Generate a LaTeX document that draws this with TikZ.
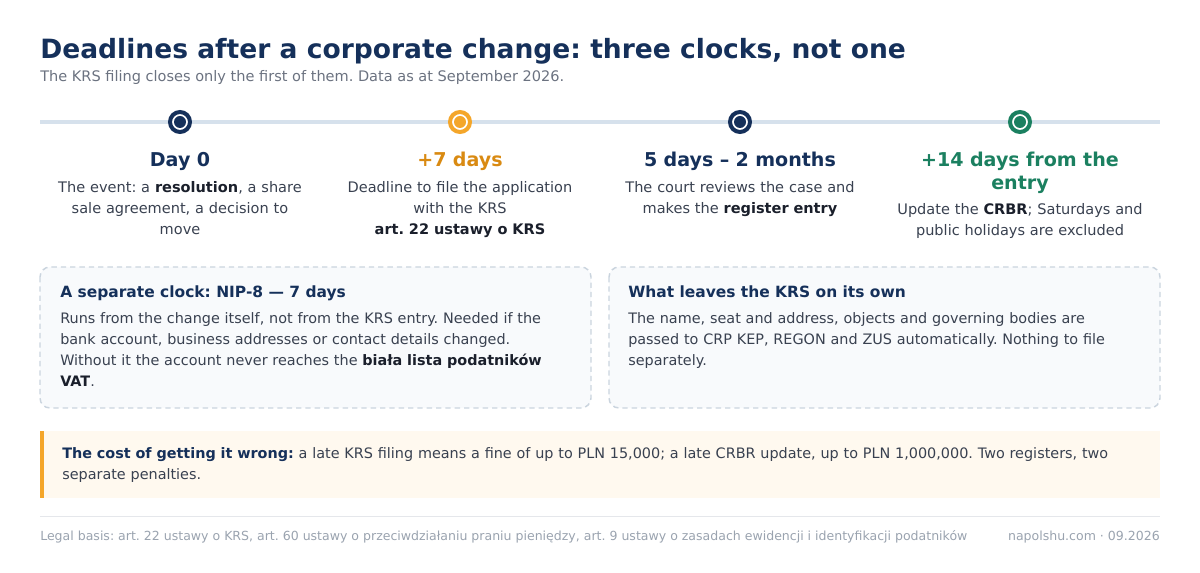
\documentclass[tikz,border=0pt]{standalone}
\usepackage{fontspec}
\setmainfont{DejaVu Sans}
\usepackage{xcolor}
\usetikzlibrary{positioning}
\definecolor{KRS_Navy}{HTML}{15305A}
\definecolor{KRS_Amber}{HTML}{F4A62A}
\definecolor{KRS_AmberText}{HTML}{D98A12}
\definecolor{KRS_Green}{HTML}{1B8060}
\definecolor{KRS_Rail}{HTML}{D6E1EC}
\definecolor{KRS_Body}{HTML}{394150}
\definecolor{KRS_Ink}{HTML}{1A1F2B}
\definecolor{KRS_Grey}{HTML}{6B7280}
\definecolor{KRS_Faint}{HTML}{9AA3AF}
\definecolor{KRS_Dash}{HTML}{CAD4DE}
\definecolor{KRS_Panel}{HTML}{F8FAFC}
\definecolor{KRS_Cream}{HTML}{FFF9EF}
\definecolor{KRS_Line}{HTML}{E5E7EB}
\newcommand{\krsbold}[1]{\textbf{\textcolor{KRS_Ink}{#1}}}
\frenchspacing

\begin{document}
\begin{tikzpicture}[x=0.75pt, y=-0.75pt,
    stepdot/.style={circle, draw=#1, line width=3pt, fill=white, minimum size=15pt, inner sep=0pt},
    headtext/.style={anchor=base, text width=220pt, align=center, inner sep=0pt, font=\fontsize{14.3}{16.9}\selectfont\bfseries},
    desctext/.style={anchor=base, text width=220pt, align=center, inner sep=0pt, text=KRS_Body, font=\fontsize{10.9}{15.75}\selectfont},
    panel/.style={draw=KRS_Dash, fill=KRS_Panel, line width=1.1pt, dash pattern=on 4pt off 3pt, rounded corners=7.5pt},
    paneltitle/.style={anchor=base west, inner sep=0pt, text=KRS_Navy, font=\fontsize{11.6}{14}\selectfont\bfseries},
    paneltext/.style={anchor=base west, inner sep=0pt, text width=400pt, align=left, text=KRS_Body, font=\fontsize{10.8}{15.75}\selectfont},
    foottext/.style={inner sep=0pt, text=KRS_Faint, font=\fontsize{9.4}{11}\selectfont}
]
    \useasboundingbox (0,0) rectangle (1200,573);

    % Title
    \node[anchor=base west, inner sep=0pt, text=KRS_Navy, font=\fontsize{19.9}{24}\selectfont\bfseries] (title) at (40,59) {Deadlines after a corporate change: three clocks, not one};
    \node[anchor=base west, inner sep=0pt, text=KRS_Grey, font=\fontsize{10.9}{13}\selectfont] (subtitle) at (40,82) {The KRS filing closes only the first of them. Data as at September 2026.};

    % Timeline
    \coordinate (rail-w) at (40,122);
    \coordinate (rail-e) at (1160,122);
    \draw[KRS_Rail, line width=3pt] (rail-w) -- (rail-e);
    \foreach \x/\c/\n in {180/KRS_Navy/day0, 460/KRS_Amber/day7, 740/KRS_Navy/entry, 1020/KRS_Green/crbr} {
        \node[stepdot=\c] (dot-\n) at (\x,122) {};
        \fill[\c] (dot-\n) circle (4.5pt);
    }

    % Milestones
    \node[headtext, text=KRS_Navy] (head-day0) at (180,167) {Day 0};
    \node[desctext] (desc-day0) at (180,193) {The event: a \krsbold{resolution}, a share\\sale agreement, a decision to\\move};

    \node[headtext, text=KRS_AmberText] (head-day7) at (460,167) {+7 days};
    \node[desctext] (desc-day7) at (460,193) {Deadline to file the application\\with the KRS\\\krsbold{art. 22 ustawy o KRS}};

    \node[headtext, text=KRS_Navy] (head-entry) at (740,167) {5 days – 2 months};
    \node[desctext] (desc-entry) at (740,193) {The court reviews the case and\\makes the \krsbold{register entry}};

    \node[headtext, text=KRS_Green] (head-crbr) at (1020,167) {+14 days from the\\entry};
    \node[desctext] (desc-crbr) at (1020,215) {Update the \krsbold{CRBR}; Saturdays and\\public holidays are excluded};

    % Side panels
    \draw[panel] (40,267) rectangle (591,408);
    \node[paneltitle] (nip-title) at (60,298) {A separate clock: NIP-8 — 7 days};
    \node[paneltext] (nip-text) at (60,324) {Runs from the change itself, not from the KRS entry. Needed if the\\bank account, business addresses or contact details changed.\\Without it the account never reaches the \krsbold{biała lista podatników}\\\krsbold{VAT}.};

    \draw[panel] (609,267) rectangle (1160,408);
    \node[paneltitle] (auto-title) at (628,298) {What leaves the KRS on its own};
    \node[paneltext] (auto-text) at (628,324) {The name, seat and address, objects and governing bodies are\\passed to CRP KEP, REGON and ZUS automatically. Nothing to file\\separately.};

    % Cost callout
    \fill[KRS_Cream] (40,431) rectangle (1160,498);
    \fill[KRS_Amber] (40,431) rectangle (44,498);
    \node[paneltext, text width=820pt] (cost) at (62,459) {\textbf{\textcolor{KRS_Navy}{The cost of getting it wrong:}} a late KRS filing means a fine of up to PLN 15,000; a late CRBR update, up to PLN 1,000,000. Two registers, two\\separate penalties.};

    % Footer
    \draw[KRS_Line, line width=0.75pt] (40,517) -- (1160,517);
    \node[foottext, anchor=base west] (basis) at (40,540) {Legal basis: art. 22 ustawy o KRS, art. 60 ustawy o przeciwdziałaniu praniu pieniędzy, art. 9 ustawy o zasadach ewidencji i identyfikacji podatników};
    \node[foottext, anchor=base east] (source) at (1160,540) {napolshu.com · 09.2026};
\end{tikzpicture}
\end{document}
